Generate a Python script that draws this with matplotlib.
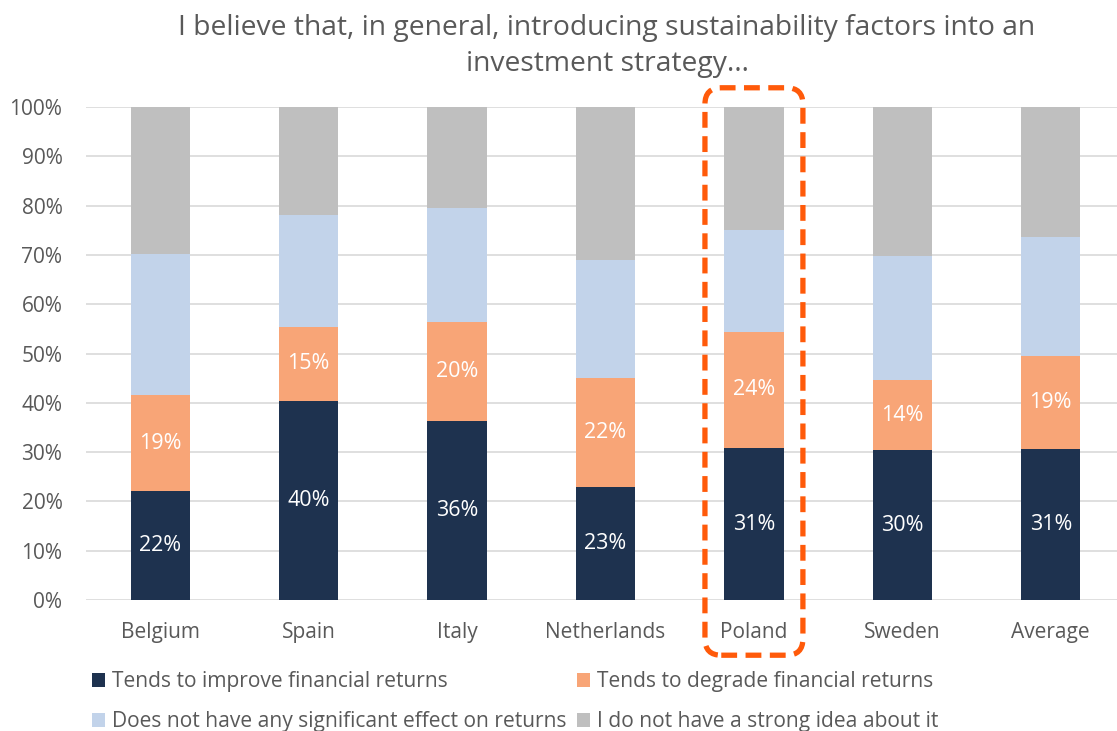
import matplotlib
matplotlib.use("Agg")
import matplotlib.pyplot as plt
import numpy as np
from matplotlib.patches import FancyBboxPatch, Patch
import matplotlib.transforms as mtransforms

plt.rcParams['font.family'] = ['Open Sans', 'DejaVu Sans']

categories = ["Belgium", "Spain", "Italy", "Netherlands", "Poland", "Sweden", "Average"]
improve = [22.1, 40.4, 36.3, 22.9, 30.8, 30.4, 30.6]
degrade = [19.4, 15.0, 20.1, 22.1, 23.6, 14.2, 18.9]
no_effect = [28.7, 22.7, 23.1, 24.0, 20.7, 25.2, 24.1]
no_idea = [29.8, 21.9, 20.5, 31.0, 24.9, 30.2, 26.4]
improve_labels = ["22%", "40%", "36%", "23%", "31%", "30%", "31%"]
degrade_labels = ["19%", "15%", "20%", "22%", "24%", "14%", "19%"]
series_names = ["Tends to improve financial returns",
                "Tends to degrade financial returns",
                "Does not have any significant effect on returns",
                "I do not have a strong idea about it"]
colors = ["#1E324F", "#F8A577", "#C2D3EA", "#BFBFBF"]
title = "I believe that, in general, introducing sustainability factors into an\ninvestment strategy…"
highlight = "Poland"

W, H = 1117, 731
fig = plt.figure(figsize=(W / 100, H / 100), dpi=100)
ax = fig.add_axes([86 / W, (H - 600) / H, (1125 - 86) / W, (600 - 107) / H])

x = np.arange(len(categories))
width = 0.4
data = [improve, degrade, no_effect, no_idea]
bottom = np.zeros(len(categories))
for vals, col in zip(data, colors):
    ax.bar(x, vals, width, bottom=bottom, color=col, zorder=3)
    bottom = bottom + np.array(vals)

for i in range(len(categories)):
    ax.text(x[i], improve[i] / 2, improve_labels[i], ha='center', va='center',
            color='white', fontsize=15.5, zorder=4)
    ax.text(x[i], improve[i] + degrade[i] / 2, degrade_labels[i], ha='center', va='center',
            color='white', fontsize=15.5, zorder=4)

ax.set_xlim(-0.5, len(categories) - 0.5)
ax.set_ylim(0, 100)
ax.set_yticks(np.arange(0, 101, 10))
ax.set_yticklabels([f"{v}%" for v in range(0, 101, 10)])
ax.set_xticks(x)
ax.set_xticklabels(categories)
ax.tick_params(axis='both', length=0, labelsize=15, labelcolor='#595959')
ax.tick_params(axis='y', pad=17)
ax.tick_params(axis='x', pad=16)
ax.yaxis.grid(True, color='#D9D9D9', linewidth=1.2, zorder=0)
for s in ax.spines.values():
    s.set_visible(False)
ax.set_axisbelow(True)

# highlight box around Poland
pi = categories.index(highlight)
trans = mtransforms.blended_transform_factory(ax.transData, ax.transAxes)
x_unit = (1125 - 86) / len(categories)
y_unit = 600 - 107
box = FancyBboxPatch((pi - 0.33, -0.112), 0.66, 1.151,
                     boxstyle="round,pad=0.0,rounding_size=0.11",
                     mutation_aspect=x_unit / y_unit,
                     transform=trans, fill=False, edgecolor='#FF5A0A',
                     linewidth=3.8, linestyle=(0, (3.0, 1.6)), clip_on=False, zorder=5)
ax.add_patch(box)

fig.text(607 / W, 1 - 46 / H, title, ha='center', va='center', fontsize=20.3,
         color='#595959', linespacing=1.42)

order = [0, 2, 1, 3]
handles = [Patch(facecolor=colors[i], edgecolor='none') for i in order]
labels = [series_names[i] for i in order]
fig.legend(handles, labels, ncol=2, loc='upper left', bbox_to_anchor=(84 / W, 1 - 663 / H),
           frameon=False, fontsize=15.1, labelcolor='#595959', handlelength=0.6,
           handleheight=0.6, handletextpad=0.35, columnspacing=0.5, labelspacing=0.9,
           borderaxespad=0)

fig.savefig("out.png", dpi=100)
